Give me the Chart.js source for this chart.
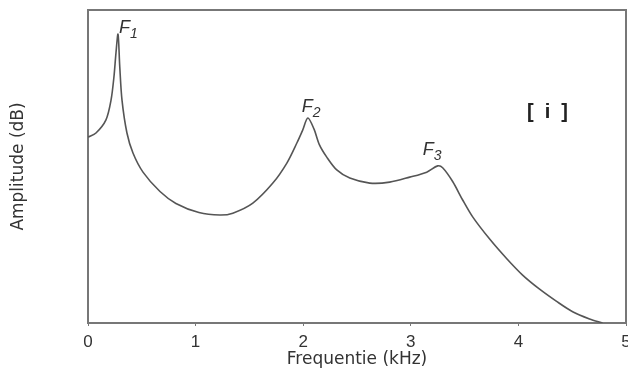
<!DOCTYPE html>
<html>
<head>
<meta charset="utf-8">
<script src="https://cdn.jsdelivr.net/npm/chart.js@4"></script>
<style>
  html, body { margin: 0; padding: 0; background: #fff; }
  #wrap { width: 628px; height: 375px; }
</style>
</head>
<body>
<div id="wrap"><canvas id="spectrum"></canvas></div>
<script>
// frequency in kHz, amplitude on an arbitrary dB scale (0..100)
const freq = [0, 0.074, 0.167, 0.214, 0.241, 0.260, 0.279, 0.295, 0.316, 0.362, 0.418, 0.511, 0.669, 0.817, 1.031, 1.226, 1.346, 1.532, 1.718, 1.848, 1.941, 1.996, 2.043, 2.100, 2.150, 2.219, 2.312, 2.433, 2.618, 2.804, 2.990, 3.148, 3.250, 3.296, 3.389, 3.482, 3.575, 3.733, 3.890, 4.039, 4.197, 4.355, 4.504, 4.661, 4.782];
const amp = [59.4, 60.7, 64.9, 71.2, 78.6, 86.3, 92.3, 82.0, 71.2, 60.7, 54.3, 48.2, 42.0, 38.2, 35.3, 34.5, 35.1, 38.3, 44.7, 51.1, 57.5, 61.7, 65.5, 62.0, 57.0, 53.0, 48.9, 46.3, 44.7, 45.0, 46.6, 48.2, 50.2, 49.6, 45.2, 39.3, 33.9, 26.8, 20.6, 15.3, 10.8, 6.9, 3.6, 1.3, 0];
const xTicks = [0, 1, 2, 3, 4, 5];

// formant labels, anchored at their peaks
const formants = [
  { name: "F", sub: "1", f: 0.279, a: 92.3, dx: 1, dy: -1 },
  { name: "F", sub: "2", f: 2.043, a: 65.5, dx: -6, dy: -6 },
  { name: "F", sub: "3", f: 3.250, a: 50.2, dx: -15, dy: -11 }
];

const points = freq.map((f, i) => ({ x: f, y: amp[i] }));
const axisColor = "#777";
const textColor = "#333";
const fontFamily = "'Liberation Sans', Arial, sans-serif";

const labelPlugin = {
  id: "labels",
  afterDraw(chart) {
    const ctx = chart.ctx;
    const area = chart.chartArea;
    const xs = chart.scales.x;
    const ys = chart.scales.y;
    ctx.save();
    // frame on top and right
    ctx.strokeStyle = axisColor;
    ctx.lineWidth = 2;
    ctx.beginPath();
    ctx.moveTo(area.left, area.top);
    ctx.lineTo(area.right, area.top);
    ctx.lineTo(area.right, area.bottom);
    ctx.stroke();

    ctx.fillStyle = textColor;
    ctx.textBaseline = "alphabetic";
    ctx.textAlign = "left";
    formants.forEach(fm => {
      const px = xs.getPixelForValue(fm.f) + fm.dx;
      const py = ys.getPixelForValue(fm.a) + fm.dy;
      ctx.font = "italic 18px " + fontFamily;
      ctx.fillText(fm.name, px, py);
      const w = ctx.measureText(fm.name).width;
      ctx.font = "italic 14px " + fontFamily;
      ctx.fillText(fm.sub, px + w, py + 5);
    });

    ctx.font = "bold 20px " + fontFamily;
    ctx.textAlign = "center";
    ctx.textBaseline = "middle";
    ctx.fillStyle = "#222";
    ctx.fillText("[  i  ]", xs.getPixelForValue(4.27), ys.getPixelForValue(67.4));
    ctx.restore();
  }
};

new Chart(document.getElementById("spectrum").getContext("2d"), {
  type: "line",
  data: {
    datasets: [{
      data: points,
      borderColor: "#555",
      borderWidth: 1.6,
      pointRadius: 0,
      fill: false,
      tension: 0.3
    }]
  },
  options: {
    responsive: true,
    maintainAspectRatio: false,
    animation: false,
    layout: { padding: { top: 10, right: 2, left: 0, bottom: 0 } },
    plugins: { legend: { display: false }, tooltip: { enabled: false } },
    scales: {
      x: {
        type: "linear",
        min: 0,
        max: 5,
        afterBuildTicks: scale => { scale.ticks = xTicks.map(v => ({ value: v })); },
        afterFit: scale => { scale.height = 52; scale.paddingLeft = 0; scale.paddingRight = 0; },
        border: { color: axisColor, width: 2 },
        grid: { display: true, drawOnChartArea: false, tickLength: 3, color: axisColor },
        ticks: { color: textColor, font: { family: fontFamily, size: 17 }, padding: 6 },
        title: {
          display: true,
          text: "Frequentie (kHz)",
          color: textColor,
          font: { family: "'DejaVu Sans', sans-serif", size: 17 },
          padding: { top: 0, bottom: 5 }
        }
      },
      y: {
        min: 0,
        max: 100,
        afterFit: scale => { scale.width = 88; },
        border: { color: axisColor, width: 2 },
        grid: { display: false },
        ticks: { display: false },
        title: {
          display: true,
          text: "Amplitude (dB)",
          color: textColor,
          font: { family: "'DejaVu Sans', sans-serif", size: 17 },
          padding: { top: 8, bottom: 4 }
        }
      }
    }
  },
  plugins: [labelPlugin]
});
</script>
</body>
</html>
